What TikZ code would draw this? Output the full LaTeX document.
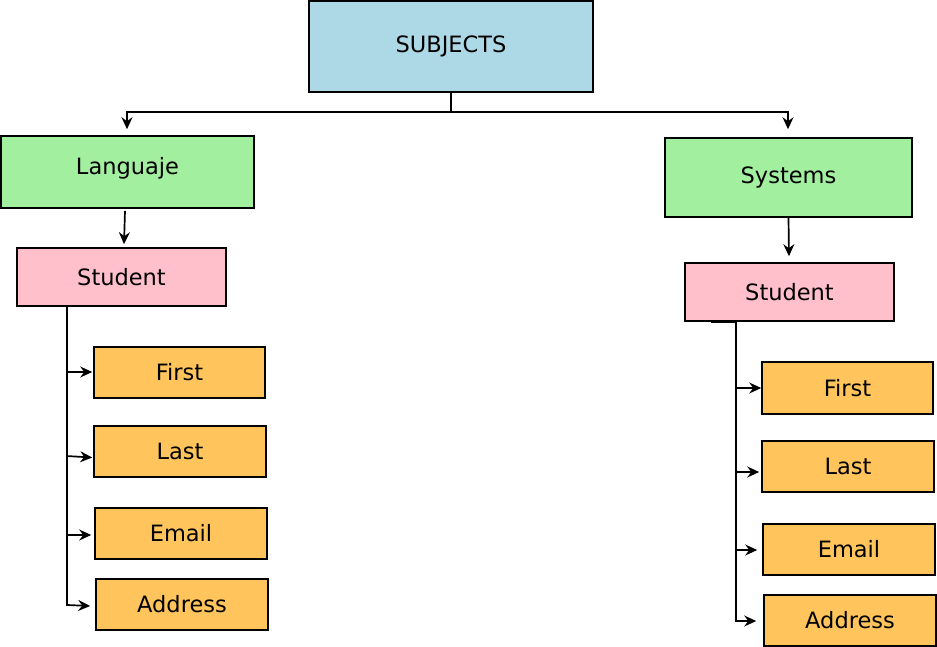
\documentclass[tikz,border=0pt]{standalone}
\usepackage{fontspec}
\setmainfont{DejaVu Sans}
\usetikzlibrary{arrows.meta,calc}
\definecolor{subjblue}{HTML}{ADD8E6}
\definecolor{grn}{HTML}{A3EFA0}
\definecolor{pnk}{HTML}{FFC0CB}
\definecolor{org}{HTML}{FFC55C}
\begin{document}
\begin{tikzpicture}[x=1pt,y=-1pt,
  box/.style={draw=black,line width=1.6pt,rectangle,inner sep=0pt,font=\fontsize{22.5}{26}\selectfont},
  txt/.style={inner sep=0pt,font=\fontsize{22.5}{26}\selectfont},
  conn/.style={draw=black,line width=1.7pt},
  arr/.style={conn,-{Stealth[length=12pt,width=11pt,inset=4pt]}}]
\useasboundingbox (0,0) rectangle (937,647);
% main
\node[box,fill=subjblue,minimum width=284,minimum height=91] (subj) at (451,46.5) {SUBJECTS};
\node[box,fill=grn,minimum width=253,minimum height=72] (lang) at (127.5,172) {};
\node[txt] (langt) at (127.5,168) {Languaje};
\node[box,fill=grn,minimum width=247,minimum height=79] (sys) at (788.5,177.5) {Systems};
\node[box,fill=pnk,minimum width=209,minimum height=58] (stl) at (121.5,277) {Student};
\node[box,fill=pnk,minimum width=209,minimum height=58] (str) at (789.5,292) {Student};
% left children
\node[box,fill=org,minimum width=171,minimum height=51] (l1) at (179.5,372.5) {First};
\node[box,fill=org,minimum width=172,minimum height=51] (l2) at (180,451.5) {Last};
\node[box,fill=org,minimum width=172,minimum height=51] (l3) at (181,533.5) {Email};
\node[box,fill=org,minimum width=172,minimum height=51] (l4) at (182,604.5) {Address};
% right children
\node[box,fill=org,minimum width=171,minimum height=52] (r1) at (847.5,388) {First};
\node[box,fill=org,minimum width=172,minimum height=51] (r2) at (848,466.5) {Last};
\node[box,fill=org,minimum width=172,minimum height=51] (r3) at (849,549.5) {Email};
\node[box,fill=org,minimum width=172,minimum height=51] (r4) at (850,620.5) {Address};
% top connectors
\coordinate (split) at ($(subj.south)+(0,19)$);
\draw[arr] (subj.south) -- (split) -| ($(lang.north)+(-0.5,-6)$);
\draw[arr] (split) -| ($(sys.north)+(-0.5,-8)$);
\draw[arr] ($(lang.south)+(-2.5,2)$) -- ($(stl.north)+(2.5,-3)$);
\draw[arr] (sys.south) -- ($(str.north)+(-0.5,-6)$);
% left tree
\coordinate (ltop) at ($(stl.south west)+(51,0)$);
\coordinate (lbot) at ($(stl.south west)+(51,299)$);
\draw[conn] (ltop) -- (lbot);
\draw[arr] ($(l1.west)+(-27,-0.5)$) -- ($(l1.west)+(-1,-0.5)$);
\draw[arr] ($(l2.west)+(-27,4.5)$) -- ($(l2.west)+(-1,6)$);
\draw[arr] ($(l3.west)+(-27,1.5)$) -- ($(l3.west)+(-3,1.5)$);
\draw[arr] ($(l4.west)+(-28,0.5)$) -- ($(l4.west)+(-5,1.5)$);
% right tree
\coordinate (rhook) at ($(str.south west)+(27,0)$);
\coordinate (rtop) at ($(str.south west)+(52,0)$);
\coordinate (rbot) at ($(str.south west)+(52,299)$);
\draw[conn] (rhook) -- (rtop) -- (rbot);
\draw[arr] ($(r1.west)+(-25,0)$) -- ($(r1.west)+(-0,0)$);
\draw[arr] ($(r2.west)+(-26,5.5)$) -- ($(r2.west)+(-2,5.5)$);
\draw[arr] ($(r3.west)+(-26,0.5)$) -- ($(r3.west)+(-5,0.5)$);
\draw[arr] ($(r4.west)+(-28,0.5)$) -- ($(r4.west)+(-7,0.5)$);
\end{tikzpicture}
\end{document}
